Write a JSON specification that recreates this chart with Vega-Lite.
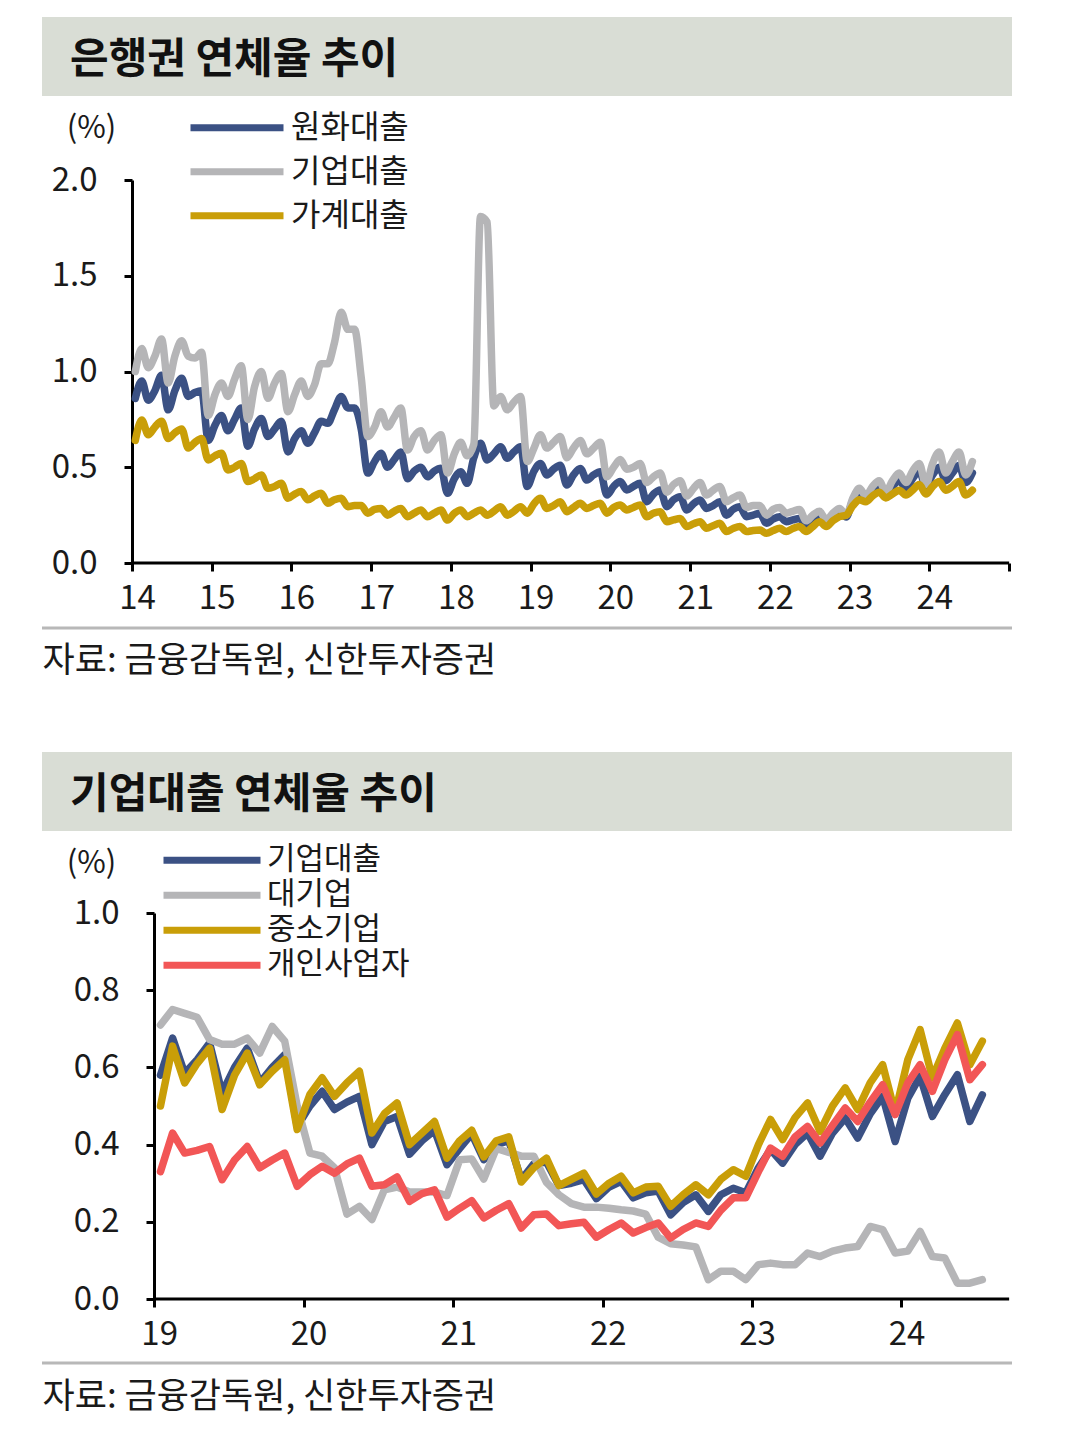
{
  "$schema": "https://vega.github.io/schema/vega-lite/v6.json",
  "background": "white",
  "padding": {"left": 40, "top": 17, "right": 0, "bottom": 20},
  "config": {
    "font": "Noto Sans CJK KR",
    "view": {"stroke": null},
    "axis": {"grid": false, "domainColor": "#000000", "domainWidth": 3, "tickColor": "#000000", "tickWidth": 3, "tickSize": 8, "labelFontSize": 33, "labelColor": "#1a1a1a", "titleColor": "#1a1a1a", "titleFontWeight": "normal", "labelFlush": false, "labelOverlap": false},
    "legend": {"labelFontSize": 32, "labelColor": "#1a1a1a"}
  },
  "resolve": {"scale": {"color": "independent", "x": "independent", "y": "independent"}, "legend": {"color": "independent"}},
  "concat": [
    {
      "resolve": {"scale": {"color": "independent", "x": "independent", "y": "independent"}, "legend": {"color": "independent"}},
      "concat": [
        {
          "width": 970, "height": 79,
          "data": {"values": [{"panel": "은행권 연체율 추이"}]},
          "mark": {"type": "rect", "color": "#d9ddd5"},
          "title": {"text": "은행권 연체율 추이", "orient": "top", "anchor": "start", "frame": "group", "offset": 0, "dy": 84.5, "baseline": "middle", "dx": 28, "fontSize": 42, "fontWeight": "bold", "color": "#111111"}
        },
        {
          "width": 970, "height": 383,
          "layer": [
            {
              "data": {"values": [
                {"month":"2014-01","원화대출":0.86,"기업대출":1.00,"가계대출":0.64},
                {"month":"2014-02","원화대출":0.95,"기업대출":1.12,"가계대출":0.747},
                {"month":"2014-03","원화대출":0.85,"기업대출":1.02,"가계대출":0.67},
                {"month":"2014-04","원화대출":0.90,"기업대출":1.08,"가계대출":0.71},
                {"month":"2014-05","원화대출":0.98,"기업대출":1.17,"가계대출":0.74},
                {"month":"2014-06","원화대출":0.80,"기업대출":0.94,"가계대출":0.65},
                {"month":"2014-07","원화대출":0.90,"기업대출":1.08,"가계대출":0.68},
                {"month":"2014-08","원화대출":0.965,"기업대출":1.16,"가계대출":0.70},
                {"month":"2014-09","원화대출":0.87,"기업대출":1.08,"가계대출":0.60},
                {"month":"2014-10","원화대출":0.89,"기업대출":1.07,"가계대출":0.63},
                {"month":"2014-11","원화대출":0.90,"기업대출":1.10,"가계대출":0.65},
                {"month":"2014-12","원화대출":0.64,"기업대출":0.77,"가계대출":0.538},
                {"month":"2015-01","원화대출":0.72,"기업대출":0.88,"가계대출":0.56},
                {"month":"2015-02","원화대출":0.77,"기업대출":0.94,"가계대출":0.573},
                {"month":"2015-03","원화대출":0.69,"기업대출":0.87,"가계대출":0.486},
                {"month":"2015-04","원화대출":0.75,"기업대출":0.96,"가계대출":0.50},
                {"month":"2015-05","원화대출":0.81,"기업대출":1.03,"가계대출":0.52},
                {"month":"2015-06","원화대출":0.61,"기업대출":0.75,"가계대출":0.425},
                {"month":"2015-07","원화대출":0.70,"기업대출":0.92,"가계대출":0.44},
                {"month":"2015-08","원화대출":0.755,"기업대출":1.00,"가계대출":0.46},
                {"month":"2015-09","원화대출":0.66,"기업대출":0.86,"가계대출":0.39},
                {"month":"2015-10","원화대출":0.70,"기업대출":0.94,"가계대출":0.40},
                {"month":"2015-11","원화대출":0.74,"기업대출":0.99,"가계대출":0.416},
                {"month":"2015-12","원화대출":0.58,"기업대출":0.79,"가계대출":0.338},
                {"month":"2016-01","원화대출":0.65,"기업대출":0.88,"가계대출":0.36},
                {"month":"2016-02","원화대출":0.69,"기업대출":0.95,"가계대출":0.373},
                {"month":"2016-03","원화대출":0.625,"기업대출":0.87,"가계대출":0.33},
                {"month":"2016-04","원화대출":0.68,"기업대출":0.93,"가계대출":0.35},
                {"month":"2016-05","원화대출":0.74,"기업대출":1.04,"가계대출":0.364},
                {"month":"2016-06","원화대출":0.73,"기업대출":1.04,"가계대출":0.312},
                {"month":"2016-07","원화대출":0.80,"기업대출":1.15,"가계대출":0.33},
                {"month":"2016-08","원화대출":0.87,"기업대출":1.31,"가계대출":0.338},
                {"month":"2016-09","원화대출":0.81,"기업대출":1.22,"가계대출":0.294},
                {"month":"2016-10","원화대출":0.81,"기업대출":1.22,"가계대출":0.30},
                {"month":"2016-11","원화대출":0.70,"기업대출":0.97,"가계대출":0.30},
                {"month":"2016-12","원화대출":0.47,"기업대출":0.66,"가계대출":0.26},
                {"month":"2017-01","원화대출":0.53,"기업대출":0.71,"가계대출":0.28},
                {"month":"2017-02","원화대출":0.573,"기업대출":0.79,"가계대출":0.285},
                {"month":"2017-03","원화대출":0.50,"기업대출":0.71,"가계대출":0.25},
                {"month":"2017-04","원화대출":0.54,"기업대출":0.76,"가계대출":0.27},
                {"month":"2017-05","원화대출":0.58,"기업대출":0.81,"가계대출":0.285},
                {"month":"2017-06","원화대출":0.44,"기업대출":0.59,"가계대출":0.242},
                {"month":"2017-07","원화대출":0.48,"기업대출":0.66,"가계대출":0.26},
                {"month":"2017-08","원화대출":0.50,"기업대출":0.69,"가계대출":0.277},
                {"month":"2017-09","원화대출":0.45,"기업대출":0.59,"가계대출":0.242},
                {"month":"2017-10","원화대출":0.48,"기업대출":0.64,"가계대출":0.26},
                {"month":"2017-11","원화대출":0.495,"기업대출":0.67,"가계대출":0.277},
                {"month":"2017-12","원화대출":0.364,"기업대출":0.47,"가계대출":0.224},
                {"month":"2018-01","원화대출":0.44,"기업대출":0.57,"가계대출":0.26},
                {"month":"2018-02","원화대출":0.477,"기업대출":0.63,"가계대출":0.277},
                {"month":"2018-03","원화대출":0.416,"기업대출":0.56,"가계대출":0.242},
                {"month":"2018-04","원화대출":0.55,"기업대출":0.62,"가계대출":0.26},
                {"month":"2018-05","원화대출":0.625,"기업대출":1.81,"가계대출":0.277},
                {"month":"2018-06","원화대출":0.538,"기업대출":1.78,"가계대출":0.25},
                {"month":"2018-07","원화대출":0.57,"기업대출":0.82,"가계대출":0.27},
                {"month":"2018-08","원화대출":0.607,"기업대출":0.87,"가계대출":0.294},
                {"month":"2018-09","원화대출":0.547,"기업대출":0.80,"가계대출":0.25},
                {"month":"2018-10","원화대출":0.58,"기업대출":0.84,"가계대출":0.27},
                {"month":"2018-11","원화대출":0.607,"기업대출":0.87,"가계대출":0.294},
                {"month":"2018-12","원화대출":0.40,"기업대출":0.53,"가계대출":0.26},
                {"month":"2019-01","원화대출":0.48,"기업대출":0.60,"가계대출":0.31},
                {"month":"2019-02","원화대출":0.52,"기업대출":0.67,"가계대출":0.338},
                {"month":"2019-03","원화대출":0.46,"기업대출":0.60,"가계대출":0.285},
                {"month":"2019-04","원화대출":0.49,"기업대출":0.63,"가계대출":0.30},
                {"month":"2019-05","원화대출":0.51,"기업대출":0.66,"가계대출":0.32},
                {"month":"2019-06","원화대출":0.407,"기업대출":0.55,"가계대출":0.268},
                {"month":"2019-07","원화대출":0.46,"기업대출":0.60,"가계대출":0.29},
                {"month":"2019-08","원화대출":0.494,"기업대출":0.64,"가계대출":0.312},
                {"month":"2019-09","원화대출":0.433,"기업대출":0.57,"가계대출":0.285},
                {"month":"2019-10","원화대출":0.46,"기업대출":0.60,"가계대출":0.30},
                {"month":"2019-11","원화대출":0.477,"기업대출":0.63,"가계대출":0.312},
                {"month":"2019-12","원화대출":0.355,"기업대출":0.45,"가계대출":0.26},
                {"month":"2020-01","원화대출":0.40,"기업대출":0.50,"가계대출":0.29},
                {"month":"2020-02","원화대출":0.425,"기업대출":0.54,"가계대출":0.303},
                {"month":"2020-03","원화대출":0.381,"기업대출":0.49,"가계대출":0.277},
                {"month":"2020-04","원화대출":0.40,"기업대출":0.50,"가계대출":0.29},
                {"month":"2020-05","원화대출":0.416,"기업대출":0.52,"가계대출":0.303},
                {"month":"2020-06","원화대출":0.32,"기업대출":0.42,"가계대출":0.242},
                {"month":"2020-07","원화대출":0.36,"기업대출":0.45,"가계대출":0.26},
                {"month":"2020-08","원화대출":0.381,"기업대출":0.47,"가계대출":0.268},
                {"month":"2020-09","원화대출":0.294,"기업대출":0.37,"가계대출":0.216},
                {"month":"2020-10","원화대출":0.33,"기업대출":0.41,"가계대출":0.225},
                {"month":"2020-11","원화대출":0.346,"기업대출":0.43,"가계대출":0.233},
                {"month":"2020-12","원화대출":0.277,"기업대출":0.35,"가계대출":0.19},
                {"month":"2021-01","원화대출":0.31,"기업대출":0.39,"가계대출":0.205},
                {"month":"2021-02","원화대출":0.329,"기업대출":0.42,"가계대출":0.216},
                {"month":"2021-03","원화대출":0.285,"기업대출":0.355,"가계대출":0.181},
                {"month":"2021-04","원화대출":0.30,"기업대출":0.38,"가계대출":0.195},
                {"month":"2021-05","원화대출":0.32,"기업대출":0.40,"가계대출":0.207},
                {"month":"2021-06","원화대출":0.25,"기업대출":0.32,"가계대출":0.164},
                {"month":"2021-07","원화대출":0.28,"기업대출":0.34,"가계대출":0.18},
                {"month":"2021-08","원화대출":0.294,"기업대출":0.355,"가계대출":0.19},
                {"month":"2021-09","원화대출":0.242,"기업대출":0.29,"가계대출":0.164},
                {"month":"2021-10","원화대출":0.25,"기업대출":0.30,"가계대출":0.17},
                {"month":"2021-11","원화대출":0.26,"기업대출":0.30,"가계대출":0.172},
                {"month":"2021-12","원화대출":0.207,"기업대출":0.25,"가계대출":0.155},
                {"month":"2022-01","원화대출":0.23,"기업대출":0.28,"가계대출":0.17},
                {"month":"2022-02","원화대출":0.242,"기업대출":0.29,"가계대출":0.181},
                {"month":"2022-03","원화대출":0.216,"기업대출":0.26,"가계대출":0.164},
                {"month":"2022-04","원화대출":0.225,"기업대출":0.27,"가계대출":0.18},
                {"month":"2022-05","원화대출":0.233,"기업대출":0.28,"가계대출":0.19},
                {"month":"2022-06","원화대출":0.198,"기업대출":0.22,"가계대출":0.164},
                {"month":"2022-07","원화대출":0.22,"기업대출":0.25,"가계대출":0.19},
                {"month":"2022-08","원화대출":0.242,"기업대출":0.27,"가계대출":0.216},
                {"month":"2022-09","원화대출":0.207,"기업대출":0.225,"가계대출":0.19},
                {"month":"2022-10","원화대출":0.24,"기업대출":0.26,"가계대출":0.22},
                {"month":"2022-11","원화대출":0.268,"기업대출":0.285,"가계대출":0.242},
                {"month":"2022-12","원화대출":0.24,"기업대출":0.25,"가계대출":0.25},
                {"month":"2023-01","원화대출":0.33,"기업대출":0.34,"가계대출":0.30},
                {"month":"2023-02","원화대출":0.37,"기업대출":0.39,"가계대출":0.33},
                {"month":"2023-03","원화대출":0.34,"기업대출":0.35,"가계대출":0.32},
                {"month":"2023-04","원화대출":0.38,"기업대출":0.40,"가계대출":0.35},
                {"month":"2023-05","원화대출":0.41,"기업대출":0.43,"가계대출":0.37},
                {"month":"2023-06","원화대출":0.36,"기업대출":0.37,"가계대출":0.34},
                {"month":"2023-07","원화대출":0.40,"기업대출":0.43,"가계대출":0.36},
                {"month":"2023-08","원화대출":0.43,"기업대출":0.47,"가계대출":0.38},
                {"month":"2023-09","원화대출":0.39,"기업대출":0.42,"가계대출":0.355},
                {"month":"2023-10","원화대출":0.44,"기업대출":0.48,"가계대출":0.38},
                {"month":"2023-11","원화대출":0.48,"기업대출":0.52,"가계대출":0.41},
                {"month":"2023-12","원화대출":0.40,"기업대출":0.41,"가계대출":0.36},
                {"month":"2024-01","원화대출":0.46,"기업대출":0.52,"가계대출":0.40},
                {"month":"2024-02","원화대출":0.50,"기업대출":0.58,"가계대출":0.425},
                {"month":"2024-03","원화대출":0.43,"기업대출":0.47,"가계대출":0.38},
                {"month":"2024-04","원화대출":0.47,"기업대출":0.53,"가계대출":0.40},
                {"month":"2024-05","원화대출":0.51,"기업대출":0.58,"가계대출":0.425},
                {"month":"2024-06","원화대출":0.42,"기업대출":0.46,"가계대출":0.355},
                {"month":"2024-07","원화대출":0.47,"기업대출":0.53,"가계대출":0.38}
              ]},
              "transform": [{"fold": ["원화대출", "기업대출", "가계대출"], "as": ["series", "value"]}],
              "mark": {"type": "line", "strokeWidth": 7.5, "strokeCap": "round", "strokeJoin": "round", "interpolate": "monotone"},
              "encoding": {
                "x": {"field": "month", "type": "temporal", "timeUnit": "utcyearmonth", "bandPosition": 0.5,
                  "scale": {"type": "utc", "domain": [{"year": 2012, "month": 11, "date": 15, "utc": true}, {"year": 2025, "month": 1, "date": 14, "utc": true}]},
                  "axis": {"domain": false, "values": [{"year": 2014, "utc": true}, {"year": 2015, "utc": true}, {"year": 2016, "utc": true}, {"year": 2017, "utc": true}, {"year": 2018, "utc": true}, {"year": 2019, "utc": true}, {"year": 2020, "utc": true}, {"year": 2021, "utc": true}, {"year": 2022, "utc": true}, {"year": 2023, "utc": true}, {"year": 2024, "utc": true}, {"year": 2025, "utc": true}],
                    "labelExpr": "utcyear(datum.value) > 2024 ? '' : utcFormat(datum.value, '%y')",
                    "labelOffset": 5, "labelPadding": 11,
                    "title": "자료: 금융감독원, 신한투자증권", "titleX": 0, "titleY": 97, "titleAlign": "left", "titleBaseline": "middle", "titleAngle": 0, "titleFontSize": 35}},
                "y": {"field": "value", "type": "quantitative", "scale": {"domain": [0, 2]},
                  "axis": {"offset": -90, "values": [0, 0.5, 1, 1.5, 2], "format": ".1f", "labelPadding": 27,
                    "title": "(%)", "titleX": -41, "titleY": -52, "titleAngle": 0, "titleAlign": "center", "titleBaseline": "middle", "titleFontSize": 31}},
                "color": {"field": "series", "type": "nominal",
                  "scale": {"domain": ["원화대출", "기업대출", "가계대출"], "range": ["#3b5184", "#b5b5b7", "#c99e08"]},
                  "legend": {"orient": "none", "legendX": 145, "legendY": -74, "direction": "vertical", "title": null, "symbolType": "stroke", "symbolSize": 8649, "symbolStrokeWidth": 7, "clipHeight": 43.5, "rowPadding": 0, "padding": 0, "labelOffset": 4, "labelFontSize": 32}}
              }
            },
            {
              "data": {"values": [{}]},
              "mark": {"type": "rule", "color": "#000000", "strokeWidth": 3},
              "encoding": {
                "x": {"datum": {"year": 2014, "month": 1, "date": 1, "utc": true}, "type": "temporal"},
                "x2": {"datum": {"year": 2025, "month": 1, "date": 1, "utc": true}},
                "y": {"datum": 0, "type": "quantitative"}
              }
            },
            {
              "data": {"values": [{}]},
              "mark": {"type": "rule", "clip": false, "color": "#b8b8b8", "strokeWidth": 3},
              "encoding": {
                "y": {"datum": -0.34, "type": "quantitative"}
              }
            }
          ]
        }
      ],
      "columns": 1, "align": "none", "spacing": 10
    },
    {
      "resolve": {"scale": {"color": "independent", "x": "independent", "y": "independent"}, "legend": {"color": "independent"}},
      "concat": [
        {
          "width": 970, "height": 79,
          "data": {"values": [{"panel": "기업대출 연체율 추이"}]},
          "mark": {"type": "rect", "color": "#d9ddd5"},
          "title": {"text": "기업대출 연체율 추이", "orient": "top", "anchor": "start", "frame": "group", "offset": 0, "dy": 84.5, "baseline": "middle", "dx": 28, "fontSize": 42, "fontWeight": "bold", "color": "#111111"}
        },
        {
          "width": 970, "height": 386,
          "layer": [
            {
              "data": {"values": [
                {"month":"2019-01","기업대출":0.58,"대기업":0.71,"중소기업":0.50,"개인사업자":0.33},
                {"month":"2019-02","기업대출":0.676,"대기업":0.75,"중소기업":0.655,"개인사업자":0.43},
                {"month":"2019-03","기업대출":0.585,"대기업":0.74,"중소기업":0.56,"개인사업자":0.378},
                {"month":"2019-04","기업대출":0.62,"대기업":0.73,"중소기업":0.61,"개인사업자":0.385},
                {"month":"2019-05","기업대출":0.663,"대기업":0.672,"중소기업":0.65,"개인사업자":0.395},
                {"month":"2019-06","기업대출":0.534,"대기업":0.66,"중소기업":0.491,"개인사업자":0.309},
                {"month":"2019-07","기업대출":0.60,"대기업":0.66,"중소기업":0.58,"개인사업자":0.36},
                {"month":"2019-08","기업대출":0.65,"대기업":0.676,"중소기업":0.637,"개인사업자":0.395},
                {"month":"2019-09","기업대출":0.56,"대기업":0.637,"중소기업":0.555,"개인사업자":0.34},
                {"month":"2019-10","기업대출":0.60,"대기업":0.706,"중소기업":0.59,"개인사업자":0.36},
                {"month":"2019-11","기업대출":0.633,"대기업":0.668,"중소기업":0.62,"개인사업자":0.378},
                {"month":"2019-12","기업대출":0.447,"대기업":0.50,"중소기업":0.439,"개인사업자":0.292},
                {"month":"2020-01","기업대출":0.50,"대기업":0.378,"중소기업":0.53,"개인사업자":0.322},
                {"month":"2020-02","기업대출":0.538,"대기업":0.37,"중소기업":0.573,"개인사업자":0.344},
                {"month":"2020-03","기업대출":0.491,"대기업":0.34,"중소기업":0.525,"개인사업자":0.326},
                {"month":"2020-04","기업대출":0.51,"대기업":0.22,"중소기업":0.56,"개인사업자":0.35},
                {"month":"2020-05","기업대출":0.525,"대기업":0.24,"중소기업":0.59,"개인사업자":0.365},
                {"month":"2020-06","기업대출":0.40,"대기업":0.206,"중소기업":0.43,"개인사업자":0.292},
                {"month":"2020-07","기업대출":0.46,"대기업":0.283,"중소기업":0.48,"개인사업자":0.296},
                {"month":"2020-08","기업대출":0.473,"대기업":0.29,"중소기업":0.508,"개인사업자":0.316},
                {"month":"2020-09","기업대출":0.375,"대기업":0.277,"중소기업":0.40,"개인사업자":0.253},
                {"month":"2020-10","기업대출":0.41,"대기업":0.277,"중소기업":0.43,"개인사업자":0.273},
                {"month":"2020-11","기업대출":0.437,"대기업":0.277,"중소기업":0.46,"개인사업자":0.283},
                {"month":"2020-12","기업대출":0.348,"대기업":0.268,"중소기업":0.365,"개인사업자":0.212},
                {"month":"2021-01","기업대출":0.39,"대기업":0.361,"중소기업":0.41,"개인사업자":0.235},
                {"month":"2021-02","기업대출":0.428,"대기업":0.363,"중소기업":0.437,"개인사업자":0.255},
                {"month":"2021-03","기업대출":0.361,"대기업":0.311,"중소기업":0.368,"개인사업자":0.21},
                {"month":"2021-04","기업대출":0.40,"대기업":0.39,"중소기업":0.41,"개인사업자":0.23},
                {"month":"2021-05","기업대출":0.41,"대기업":0.38,"중소기업":0.42,"개인사업자":0.247},
                {"month":"2021-06","기업대출":0.309,"대기업":0.37,"중소기업":0.303,"개인사업자":0.184},
                {"month":"2021-07","기업대출":0.35,"대기업":0.37,"중소기업":0.34,"개인사업자":0.218},
                {"month":"2021-08","기업대출":0.355,"대기업":0.302,"중소기업":0.365,"개인사업자":0.22},
                {"month":"2021-09","기업대출":0.294,"대기업":0.27,"중소기업":0.294,"개인사업자":0.19},
                {"month":"2021-10","기업대출":0.30,"대기업":0.247,"중소기업":0.31,"개인사업자":0.195},
                {"month":"2021-11","기업대출":0.309,"대기업":0.238,"중소기업":0.326,"개인사업자":0.199},
                {"month":"2021-12","기업대출":0.26,"대기업":0.238,"중소기업":0.272,"개인사업자":0.16},
                {"month":"2022-01","기업대출":0.29,"대기업":0.235,"중소기업":0.30,"개인사업자":0.18},
                {"month":"2022-02","기업대출":0.305,"대기업":0.231,"중소기업":0.318,"개인사업자":0.197},
                {"month":"2022-03","기업대출":0.262,"대기업":0.228,"중소기업":0.275,"개인사업자":0.171},
                {"month":"2022-04","기업대출":0.275,"대기업":0.22,"중소기업":0.29,"개인사업자":0.185},
                {"month":"2022-05","기업대출":0.28,"대기업":0.16,"중소기업":0.292,"개인사업자":0.197},
                {"month":"2022-06","기업대출":0.218,"대기업":0.143,"중소기업":0.24,"개인사업자":0.158},
                {"month":"2022-07","기업대출":0.25,"대기업":0.14,"중소기업":0.27,"개인사업자":0.18},
                {"month":"2022-08","기업대출":0.27,"대기업":0.135,"중소기업":0.296,"개인사업자":0.197},
                {"month":"2022-09","기업대출":0.227,"대기업":0.05,"중소기업":0.27,"개인사업자":0.188},
                {"month":"2022-10","기업대출":0.27,"대기업":0.072,"중소기업":0.31,"개인사업자":0.23},
                {"month":"2022-11","기업대출":0.287,"대기업":0.072,"중소기업":0.335,"개인사업자":0.262},
                {"month":"2022-12","기업대출":0.275,"대기업":0.05,"중소기업":0.318,"개인사업자":0.262},
                {"month":"2023-01","기업대출":0.34,"대기업":0.089,"중소기업":0.40,"개인사업자":0.33},
                {"month":"2023-02","기업대출":0.387,"대기업":0.093,"중소기업":0.465,"개인사업자":0.391},
                {"month":"2023-03","기업대출":0.352,"대기업":0.089,"중소기업":0.413,"개인사업자":0.37},
                {"month":"2023-04","기업대출":0.40,"대기업":0.089,"중소기업":0.47,"개인사업자":0.42},
                {"month":"2023-05","기업대출":0.43,"대기업":0.119,"중소기업":0.508,"개인사업자":0.447},
                {"month":"2023-06","기업대출":0.37,"대기업":0.11,"중소기업":0.434,"개인사업자":0.404},
                {"month":"2023-07","기업대출":0.43,"대기업":0.124,"중소기업":0.50,"개인사업자":0.45},
                {"month":"2023-08","기업대출":0.469,"대기업":0.132,"중소기업":0.547,"개인사업자":0.495},
                {"month":"2023-09","기업대출":0.417,"대기업":0.136,"중소기업":0.491,"개인사업자":0.46},
                {"month":"2023-10","기업대출":0.48,"대기업":0.188,"중소기업":0.56,"개인사업자":0.51},
                {"month":"2023-11","기업대출":0.525,"대기업":0.18,"중소기업":0.607,"개인사업자":0.555},
                {"month":"2023-12","기업대출":0.408,"대기업":0.119,"중소기업":0.482,"개인사업자":0.478},
                {"month":"2024-01","기업대출":0.52,"대기업":0.124,"중소기업":0.62,"개인사업자":0.56},
                {"month":"2024-02","기업대출":0.577,"대기업":0.175,"중소기업":0.698,"개인사업자":0.607},
                {"month":"2024-03","기업대출":0.473,"대기업":0.11,"중소기업":0.573,"개인사업자":0.538},
                {"month":"2024-04","기업대출":0.53,"대기업":0.106,"중소기업":0.65,"개인사업자":0.62},
                {"month":"2024-05","기업대출":0.581,"대기업":0.041,"중소기업":0.715,"개인사업자":0.685},
                {"month":"2024-06","기업대출":0.46,"대기업":0.041,"중소기업":0.607,"개인사업자":0.568},
                {"month":"2024-07","기업대출":0.529,"대기업":0.05,"중소기업":0.668,"개인사업자":0.607}
              ]},
              "transform": [{"fold": ["기업대출", "대기업", "중소기업", "개인사업자"], "as": ["series", "value"]}],
              "mark": {"type": "line", "strokeWidth": 7.5, "strokeCap": "round", "strokeJoin": "round"},
              "encoding": {
                "x": {"field": "month", "type": "temporal", "timeUnit": "utcyearmonth", "bandPosition": 0.5,
                  "scale": {"type": "utc", "domain": [{"year": 2018, "month": 4, "date": 2, "utc": true}, {"year": 2024, "month": 9, "date": 27, "utc": true}]},
                  "axis": {"domain": false, "values": [{"year": 2019, "utc": true}, {"year": 2020, "utc": true}, {"year": 2021, "utc": true}, {"year": 2022, "utc": true}, {"year": 2023, "utc": true}, {"year": 2024, "utc": true}],
                    "labelExpr": "utcFormat(datum.value, '%y')",
                    "labelOffset": 5, "labelPadding": 11,
                    "title": "자료: 금융감독원, 신한투자증권", "titleX": 0, "titleY": 97, "titleAlign": "left", "titleBaseline": "middle", "titleAngle": 0, "titleFontSize": 35}},
                "y": {"field": "value", "type": "quantitative", "scale": {"domain": [0, 1]},
                  "axis": {"offset": -112, "values": [0, 0.2, 0.4, 0.6, 0.8, 1], "format": ".1f", "labelPadding": 27,
                    "title": "(%)", "titleX": -63, "titleY": -50, "titleAngle": 0, "titleAlign": "center", "titleBaseline": "middle", "titleFontSize": 31}},
                "color": {"field": "series", "type": "nominal",
                  "scale": {"domain": ["기업대출", "대기업", "중소기업", "개인사업자"], "range": ["#3b5184", "#b5b5b7", "#c99e08", "#f25656"]},
                  "legend": {"orient": "none", "legendX": 118, "legendY": -70, "direction": "vertical", "title": null, "symbolType": "stroke", "symbolSize": 9409, "symbolStrokeWidth": 7, "clipHeight": 34.7, "rowPadding": 0, "padding": 0, "labelOffset": 3, "labelFontSize": 31}}
              }
            },
            {
              "data": {"values": [{}]},
              "mark": {"type": "rule", "color": "#000000", "strokeWidth": 3},
              "encoding": {
                "x": {"datum": {"year": 2019, "month": 1, "date": 1, "utc": true}, "type": "temporal"},
                "x2": {"datum": {"year": 2024, "month": 9, "date": 20, "utc": true}},
                "y": {"datum": 0, "type": "quantitative"}
              }
            },
            {
              "data": {"values": [{}]},
              "mark": {"type": "rule", "clip": false, "color": "#b8b8b8", "strokeWidth": 3},
              "encoding": {
                "y": {"datum": -0.166, "type": "quantitative"}
              }
            }
          ]
        }
      ],
      "columns": 1, "align": "none", "spacing": 12
    }
  ],
  "columns": 1, "align": "none", "spacing": 74
}
